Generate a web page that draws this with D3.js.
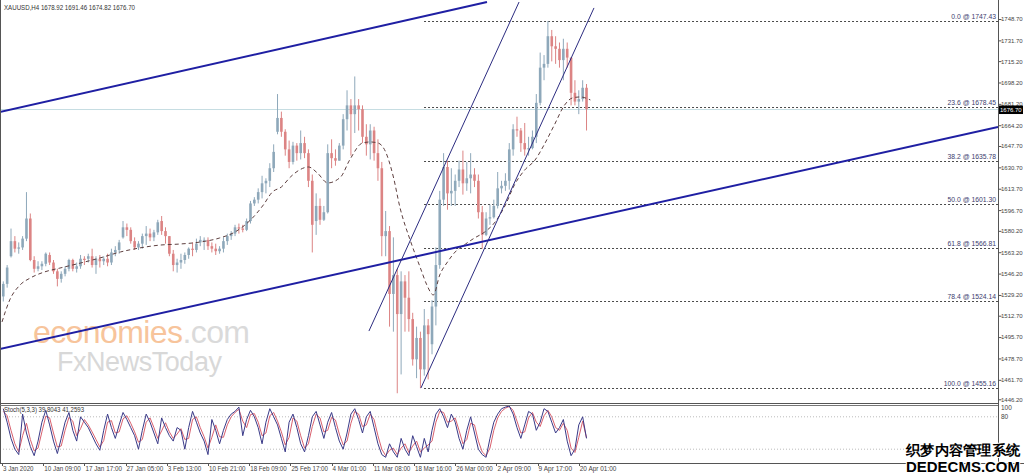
<!DOCTYPE html>
<html><head><meta charset="utf-8">
<script src="https://cdn.jsdelivr.net/npm/d3@7"></script>
<style>
body{margin:0;background:#fff}
svg{display:block}
text{font-family:"Liberation Sans",Arial,sans-serif}
</style>
</head><body>
<svg id="chart" width="1024" height="476"></svg>
<script>
// ---------------- DATA ----------------
const symbolName = "XAUUSD,H4";
const lastBarOHLC = [1678.92, 1691.46, 1674.82, 1676.70];
const currentPrice = 1676.70;

// half-day candles (each = 3 H4 bars)
const openP = [1528,1538,1560,1572,1566,1567,1574,1590,1557,1550,1552,1554,1561,1555,1548,1542,1546,1550,1557,1550,1552,1558,1558,1560,1553,1558,1556,1558,1555,1563,1565,1575,1583,1581,1572,1567,1570,1576,1578,1575,1579,1588,1580,1576,1562,1553,1555,1557,1561,1566,1565,1571,1573,1573,1568,1566,1564,1566,1572,1576,1578,1583,1582,1581,1588,1602,1605,1611,1618,1620,1630,1659,1670,1659,1645,1635,1648,1642,1650,1642,1620,1588,1600,1589,1595,1642,1638,1636,1648,1669,1680,1673,1680,1677,1655,1649,1660,1642,1630,1576,1580,1530,1545,1514,1540,1527,1510,1478,1495,1470,1505,1490,1520,1553,1605,1631,1610,1612,1620,1629,1618,1622,1625,1620,1595,1577,1590,1591,1600,1614,1616,1620,1645,1661,1660,1650,1645,1646,1655,1682,1710,1713,1735,1727,1725,1716,1725,1718,1690,1683,1685,1694];
const highP = [1540,1553,1582,1576,1571,1576,1611,1594,1560,1556,1556,1563,1563,1557,1550,1548,1552,1558,1558,1555,1561,1560,1562,1566,1560,1561,1560,1562,1566,1568,1573,1588,1586,1583,1575,1572,1578,1584,1582,1581,1589,1592,1583,1576,1565,1558,1562,1563,1567,1571,1574,1576,1575,1575,1571,1570,1568,1575,1578,1580,1585,1586,1585,1590,1604,1607,1614,1624,1622,1634,1649,1689,1675,1661,1652,1651,1650,1660,1655,1645,1625,1610,1606,1600,1649,1653,1645,1650,1673,1692,1685,1703,1685,1680,1665,1665,1663,1653,1635,1596,1584,1575,1550,1548,1545,1548,1515,1504,1500,1518,1510,1525,1567,1612,1642,1636,1630,1625,1636,1644,1635,1642,1630,1625,1600,1595,1601,1605,1627,1620,1626,1650,1665,1671,1662,1666,1655,1660,1689,1722,1720,1747,1740,1735,1730,1733,1730,1718,1700,1692,1700,1697];
const lowP = [1524,1535,1559,1563,1562,1565,1572,1556,1547,1548,1549,1552,1553,1546,1536,1539,1544,1548,1548,1547,1550,1553,1555,1551,1546,1551,1553,1552,1553,1560,1562,1574,1576,1570,1565,1565,1566,1569,1572,1572,1577,1577,1570,1560,1548,1547,1550,1554,1558,1560,1563,1568,1565,1565,1563,1561,1562,1563,1569,1573,1576,1578,1579,1580,1586,1600,1602,1606,1610,1615,1627,1657,1655,1640,1630,1633,1636,1637,1638,1615,1563,1577,1585,1588,1594,1630,1632,1636,1645,1660,1640,1658,1660,1650,1640,1637,1636,1620,1560,1560,1504,1500,1451,1466,1500,1500,1473,1463,1455,1465,1462,1482,1505,1550,1600,1597,1600,1600,1615,1609,1612,1610,1615,1590,1566,1576,1585,1590,1598,1610,1612,1613,1640,1655,1643,1640,1640,1645,1650,1680,1700,1710,1715,1713,1710,1700,1710,1680,1680,1673,1683,1660];
const closeP = [1538,1551,1572,1566,1567,1574,1590,1557,1550,1552,1554,1562,1555,1548,1542,1546,1550,1557,1550,1552,1558,1557,1560,1553,1558,1556,1558,1555,1563,1565,1571,1583,1581,1572,1567,1570,1576,1578,1575,1579,1587,1580,1576,1562,1553,1555,1557,1561,1566,1565,1570,1573,1573,1568,1566,1564,1566,1572,1576,1578,1583,1582,1581,1588,1602,1605,1611,1618,1620,1630,1643,1670,1659,1645,1635,1648,1642,1650,1642,1620,1585,1600,1589,1595,1642,1638,1636,1648,1669,1680,1673,1680,1677,1655,1649,1660,1642,1630,1576,1580,1530,1545,1514,1540,1527,1510,1478,1495,1470,1505,1498,1520,1553,1605,1631,1610,1612,1620,1629,1618,1622,1625,1620,1595,1577,1590,1591,1600,1614,1616,1620,1645,1661,1660,1650,1645,1646,1655,1682,1710,1713,1735,1727,1725,1716,1725,1718,1690,1683,1685,1694,1677];

// dashed moving average, read at H4 bar positions
const maBars = [0,6,14,22,33,45,61,76,92,107,123,138,154,169,181,193,203,210,217,224,231,238,245,253,263,270,280,286,292,298,304,309,317,325,330,335,340,346,352,360,367,375,383,391,398,406,414,421,429,437,443,449,457];
const maValues = [1507.7,1525.2,1537.1,1542.7,1547.5,1550.6,1554.6,1558.6,1563.4,1566.6,1568.9,1569.7,1571.3,1574.5,1579.3,1588.8,1600.8,1611.1,1615.1,1623.0,1628.6,1631.0,1626.2,1618.3,1623.0,1636.5,1650.1,1650.9,1650.1,1642.9,1623.0,1599.2,1572.9,1550.6,1537.1,1529.2,1545.1,1555.4,1563.4,1569.7,1574.5,1579.3,1587.2,1600.8,1616.7,1628.6,1636.5,1648.5,1664.4,1680.3,1685.9,1686.7,1684.3];

// right price axis labels
const priceTicks = [1748.70,1731.70,1715.20,1698.20,1681.20,1664.20,1647.70,1630.70,1613.70,1596.70,1580.20,1563.20,1546.20,1529.20,1512.70,1495.70,1478.70,1461.70,1446.20];

// time labels and their H4 bar index
const timeLabels = ["3 Jan 2020","10 Jan 09:00","17 Jan 17:00","27 Jan 05:00","3 Feb 13:00","10 Feb 21:00","18 Feb 09:00","25 Feb 17:00","4 Mar 01:00","11 Mar 08:00","18 Mar 16:00","26 Mar 00:00","2 Apr 09:00","9 Apr 17:00","20 Apr 01:00"];
const timeLabelBars = [0,32,64,96,128,160,192,224,256,288,320,352,384,416,448];

// Fibonacci retracement
const fibLevels = [0.0,23.6,38.2,50.0,61.8,78.4,100.0];
const fibPrices = [1747.43,1678.45,1635.78,1601.30,1566.81,1524.14,1455.16];
const fibStartBar = 327.8;

// trend lines [bar, price] pairs
const channelThick = [
  [[-1.55,1674.7],[376.7,1762.2]],
  [[-1.55,1486.2],[773.6,1662.8]]
];
const channelThin = [
  [[285.0,1500.5],[401.6,1762.2]],
  [[325.4,1455.2],[459.8,1757.5]]
];

// Stochastic (5,3,3)
const stochName = "Stoch(5,3,3)";
const stochLast = [39.8043, 41.2593];
const stochLevels = [80, 20];
const stochAxisLabels = [100, 80];
const stochK = [95,70,40,20,10,85,50,25,8,35,70,92,65,35,12,40,70,88,55,35,80,70,60,45,30,18,55,85,60,40,65,88,75,60,45,20,55,85,70,50,30,78,60,45,35,60,55,20,60,90,70,50,35,10,75,55,30,55,75,85,90,98,45,75,92,80,60,30,70,95,80,65,40,15,70,85,60,30,15,45,80,90,65,40,70,88,60,35,20,50,85,95,75,50,80,90,60,30,10,5,30,15,5,40,20,8,45,25,5,40,15,55,85,95,80,60,85,70,40,20,55,80,50,20,10,5,40,70,85,95,98,100,85,60,40,65,90,85,55,70,95,90,70,50,60,75,35,8,20,65,80,40];
const stochD = [90,82,55,30,15,45,68,38,17,22,52,81,78,50,24,26,55,79,72,45,58,75,65,52,38,24,36,70,73,50,52,76,82,68,52,33,38,70,78,60,40,54,69,52,40,48,58,38,40,75,80,60,43,22,42,65,43,42,65,80,88,94,72,60,84,86,70,45,50,82,88,72,52,28,42,78,72,45,22,30,62,85,78,52,55,79,74,48,28,35,68,90,85,62,65,85,75,45,20,8,18,22,10,22,30,14,26,35,15,22,28,35,70,90,88,70,72,78,55,30,38,68,65,35,15,8,22,55,78,90,96,99,92,72,50,52,78,88,70,62,82,92,80,60,55,68,55,22,14,42,72,41];

// ---------------- LAYOUT ----------------
const svg = d3.select("#chart");
const plotR = 998, mainBot = 403, stTop = 405, stBot = 463;
const x = d3.scaleLinear().domain([0, 773.6]).range([2, 998]);
const y = d3.scaleLinear().domain([1446.2, 1748.7]).range([399.3, 19]);
const ys = d3.scaleLinear().domain([0, 100]).range([460, 406]);

svg.append("rect").attr("width",1024).attr("height",476).attr("fill","#fff");

const defs = svg.append("defs");
defs.append("clipPath").attr("id","mainClip").append("rect")
  .attr("x",1).attr("y",0).attr("width",plotR-1).attr("height",mainBot);
defs.append("clipPath").attr("id","stClip").append("rect")
  .attr("x",1).attr("y",stTop+1).attr("width",plotR-1).attr("height",stBot-stTop-1);

// watermark
const wm = svg.append("g");
const t1 = wm.append("text").attr("x",33).attr("y",343).attr("font-size",32)
  .attr("font-family","'Open Sans',Arial,sans-serif").attr("textLength",217);
t1.append("tspan").attr("fill","#f7c49b").text("economies");
t1.append("tspan").attr("fill","#dadada").text(".com");
wm.append("text").attr("x",57).attr("y",371).attr("font-size",27).attr("fill","#d8d8d8")
  .attr("font-family","'Open Sans',Arial,sans-serif").attr("textLength",165).text("FxNewsToday");

const main = svg.append("g").attr("clip-path","url(#mainClip)");

// current price line
main.append("line").attr("x1",0).attr("x2",plotR).attr("y1",y(currentPrice)).attr("y2",y(currentPrice))
  .attr("stroke","#c6dde2").attr("stroke-width",1);

// fib lines
main.selectAll("line.fib").data(fibPrices).join("line").attr("class","fib")
  .attr("x1",x(fibStartBar)).attr("x2",plotR).attr("y1",d=>Math.round(y(d))+0.5).attr("y2",d=>Math.round(y(d))+0.5)
  .attr("stroke","#4a4a4a").attr("stroke-dasharray","2,2").attr("stroke-width",1);
svg.selectAll("text.fibl").data(fibPrices).join("text").attr("class","fibl")
  .attr("x",996).attr("y",d=>y(d)-2).attr("text-anchor","end").attr("font-size",6.8)
  .attr("fill","#3c3c6e").text((d,i)=>fibLevels[i].toFixed(1)+" @ "+d.toFixed(2));

// candles
const candles = openP.map((o,i)=>({i,o,h:highP[i],l:lowP[i],c:closeP[i]}));
const upCol = "#8ea8ba", dnCol = "#dc8484";
main.selectAll("line.wick").data(candles).join("line").attr("class","wick")
  .attr("x1",d=>x(3*d.i+1)).attr("x2",d=>x(3*d.i+1))
  .attr("y1",d=>y(d.h)).attr("y2",d=>y(d.l))
  .attr("stroke",d=>d.c>=d.o?upCol:dnCol).attr("stroke-width",1);
main.selectAll("rect.body").data(candles).join("rect").attr("class","body")
  .attr("x",d=>x(3*d.i+1)-1.3).attr("width",2.6)
  .attr("y",d=>y(Math.max(d.o,d.c))).attr("height",d=>Math.max(1,Math.abs(y(d.o)-y(d.c))))
  .attr("fill",d=>d.c>=d.o?upCol:dnCol);

// moving average
main.append("path").datum(maBars.map((b,i)=>[b,maValues[i]]))
  .attr("d",d3.line().x(d=>x(d[0])).y(d=>y(d[1])).curve(d3.curveMonotoneX))
  .attr("fill","none").attr("stroke","#5e3f3f").attr("stroke-width",1).attr("stroke-dasharray","4,3");

// channels
const tl = d3.line().x(d=>x(d[0])).y(d=>y(d[1]));
main.selectAll("path.thick").data(channelThick).join("path").attr("class","thick")
  .attr("d",tl).attr("stroke","#1f1fa3").attr("stroke-width",2).attr("fill","none");
main.selectAll("path.thin").data(channelThin).join("path").attr("class","thin")
  .attr("d",tl).attr("stroke","#2c2c80").attr("stroke-width",1).attr("fill","none");

// frames
svg.append("line").attr("x1",0.5).attr("x2",0.5).attr("y1",0).attr("y2",stBot).attr("stroke","#555");
svg.append("line").attr("x1",0).attr("x2",plotR).attr("y1",mainBot+0.5).attr("y2",mainBot+0.5).attr("stroke","#555");
svg.append("line").attr("x1",0).attr("x2",plotR).attr("y1",stTop+0.5).attr("y2",stTop+0.5).attr("stroke","#777");
svg.append("line").attr("x1",plotR+0.5).attr("x2",plotR+0.5).attr("y1",0).attr("y2",stBot).attr("stroke","#555");
svg.append("line").attr("x1",0).attr("x2",1024).attr("y1",stBot+0.5).attr("y2",stBot+0.5).attr("stroke","#555");

// price axis
const yAxis = d3.axisRight(y).tickValues(priceTicks).tickSize(3).tickFormat(d=>d.toFixed(2));
const ya = svg.append("g").attr("transform",`translate(${plotR+0.5},0)`).call(yAxis);
ya.select(".domain").remove();
ya.selectAll("line").attr("stroke","#555");
ya.selectAll("text").attr("font-size",6).attr("fill","#444").attr("x",2.5)
  .attr("font-family","'Liberation Sans',Arial,sans-serif");

// current price box
svg.append("rect").attr("x",plotR+1).attr("y",y(currentPrice)-4).attr("width",24).attr("height",8.5).attr("fill","#000");
svg.append("text").attr("x",plotR+2).attr("y",y(currentPrice)+2.3).attr("font-size",6).attr("fill","#fff")
  .text(currentPrice.toFixed(2));

// header
const headerText = symbolName+"  "+lastBarOHLC.map(v=>v.toFixed(2)).join(" ");
svg.append("text").attr("x",4).attr("y",10).attr("font-size",7).attr("fill","#333")
  .attr("textLength",131).attr("lengthAdjust","spacingAndGlyphs").text(headerText);

// stochastic panel
const st = svg.append("g").attr("clip-path","url(#stClip)");
st.selectAll("line.lvl").data(stochLevels).join("line").attr("class","lvl")
  .attr("x1",0).attr("x2",plotR).attr("y1",d=>ys(d)).attr("y2",d=>ys(d))
  .attr("stroke","#bbb").attr("stroke-dasharray","1,2");
const sl = d3.line().x((d,i)=>x(3*i+1)).y(d=>ys(d));
st.append("path").datum(stochD).attr("d",sl).attr("fill","none").attr("stroke","#d9606e").attr("stroke-width",1);
st.append("path").datum(stochK).attr("d",sl).attr("fill","none").attr("stroke","#3a3a88").attr("stroke-width",1);
svg.append("text").attr("x",4).attr("y",412).attr("font-size",6.8).attr("fill","#333")
  .attr("textLength",80).attr("lengthAdjust","spacingAndGlyphs")
  .text(stochName+" "+stochLast[0].toFixed(4)+" "+stochLast[1].toFixed(4));
svg.selectAll("text.sal").data(stochAxisLabels).join("text").attr("class","sal")
  .attr("x",plotR+3).attr("y",(d,i)=>i===0?410:419).attr("font-size",6.5).attr("fill","#444").text(d=>d);

// time axis
const xa = svg.append("g");
xa.selectAll("line").data(timeLabelBars).join("line")
  .attr("x1",d=>Math.round(x(d))+0.5).attr("x2",d=>Math.round(x(d))+0.5).attr("y1",stBot).attr("y2",stBot+3).attr("stroke","#555");
xa.selectAll("text").data(timeLabels).join("text")
  .attr("x",(d,i)=>x(timeLabelBars[i])+1).attr("y",471).attr("font-size",6.6).attr("fill","#444")
  .attr("textLength",d=>d.length*3.05).attr("lengthAdjust","spacingAndGlyphs").text(d=>d);

// site watermark bottom-right
const wm2 = svg.append("g").attr("font-weight","bold").attr("fill","#000")
  .attr("stroke","#fff").attr("stroke-width",2).attr("paint-order","stroke");
wm2.append("text").attr("x",906).attr("y",455).attr("font-size",14)
  .attr("textLength",114).attr("lengthAdjust","spacingAndGlyphs")
  .attr("font-family","'Noto Sans CJK SC',sans-serif").text("织梦内容管理系统");
wm2.append("text").attr("x",906).attr("y",472).attr("font-size",14)
  .attr("textLength",114).attr("lengthAdjust","spacingAndGlyphs")
  .attr("font-family","'DejaVu Sans',sans-serif").text("DEDECMS.COM");
</script>
</body></html>
